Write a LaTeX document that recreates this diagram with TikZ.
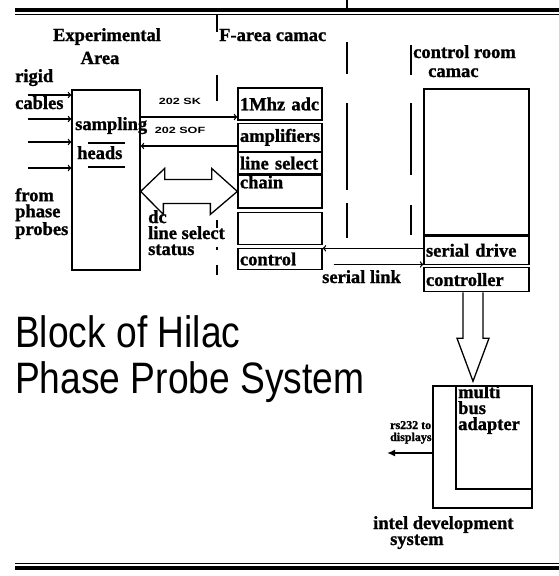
\documentclass[tikz,border=0pt]{standalone}
\usepackage{fontspec}
\setmainfont{Liberation Serif}[BoldFeatures={FakeBold=1.2}]
\newfontfamily\titlefont[FakeStretch=0.845]{Liberation Sans}
\newfontfamily\tagfont[FakeStretch=1.4]{Liberation Sans}
\usepackage{tikz}
\usetikzlibrary{arrows,arrows.meta,positioning,calc}

\begin{document}
\begin{tikzpicture}[
    x=1pt, y=-1pt,
    box/.style={rectangle, draw=black, line width=1.3pt, inner sep=0pt},
    row/.style={box, minimum width=84pt, text width=80pt, inner xsep=2pt, align=left, font=\bfseries\fontsize{18.5}{16}\selectfont},
    lbl/.style={inner sep=0pt, font=\bfseries\fontsize{18.5}{16}\selectfont},
    tag/.style={inner sep=0pt, font=\tagfont\bfseries\fontsize{9}{10}\selectfont},
    arrow/.style={->,>=to,line width=1.3pt},
    hollow/.style={line width=1.3pt, line join=miter},
    sep/.style={line width=1.3pt}
]
\useasboundingbox (0,0) rectangle (559,576);

% Rules
\draw[line width=4pt] (15,10) -- (559,10);
\draw[line width=1.2pt] (15,14.5) -- (559,14.5);
\draw[line width=1pt] (15,563) -- (559,563);
\draw[line width=3.5pt] (15,568) -- (559,568);

% Area separators
\foreach \x/\a/\b in {217/14/32, 217/75/101, 217/220/228, 217/247/250, 217/265/275,
                      347/0/10, 347/42/74, 347/103/190, 347/203/238,
                      411/45/75, 411/103/175, 411/205/235}
  \draw[sep] (\x,\a) -- (\x,\b);

% Area headings
\node[lbl, anchor=base] (exp) at (107,41) {Experimental};
\node[lbl, anchor=base] (area) at (100,64) {Area};
\node[lbl, anchor=base west] (farea) at (219,41) {F-area camac};
\node[lbl, anchor=base west] (croom) at (413,58) {control room};
\node[lbl, anchor=base west] (crcamac) at (428,77) {camac};

% Experimental Area
\node[box, minimum width=68pt, minimum height=180pt] (heads) at (106,180) {};
\node[lbl, anchor=base west] (smp) at (75,130) {sampling};
\node[lbl, anchor=base west] (hds) at (77,159) {heads};
\draw[sep] (88,143) -- (125,143);
\draw[sep] (88,167) -- (125,167);
\node[lbl, anchor=base west] (rigid) at (15,82) {rigid};
\node[lbl, anchor=base west] (cables) at (15,109) {cables};
\node[lbl, anchor=base west, align=left] (probes) at (15,235) {from\\phase\\probes};

% F-area camac crate
\node[row, minimum height=32pt] (adc) at (280,104) {1Mhz adc};
\node[row, minimum height=28pt, below=2pt of adc] (amp) {amplifiers};
\node[row, minimum height=21pt, below=0pt of amp] (lsel) {line select};
\node[row, minimum height=33pt, text depth=19pt, below=0pt of lsel] (chain) {chain};
\node[row, minimum height=32pt, below=3pt of chain] (spare) {};
\node[row, minimum height=21pt, below=3pt of spare] (ctrl) {control};

% Control room camac crate
\node[box, minimum width=105pt, minimum height=146pt] (crbox) at (476.5,162) {};
\node[row, minimum width=105pt, text width=101pt, minimum height=28pt, below=0pt of crbox] (sdrv) {serial drive};
\node[row, minimum width=105pt, text width=101pt, minimum height=24pt, below=2pt of sdrv] (cntl) {controller};

% Intel development system
\node[box, minimum width=99pt, minimum height=122pt] (intel) at (482.5,447) {};
\node[box, minimum width=76pt, minimum height=103pt, anchor=north east] (adapter) at (intel.north east) {};
\node[lbl, anchor=base west, align=left] (adtxt) at (458,430) {multi\\bus\\adapter};
\node[lbl, anchor=base west] (idev) at (373,529) {intel development};
\node[lbl, anchor=base west] (isys) at (390,545) {system};

% Title
\node[anchor=base west, inner sep=0pt, font=\titlefont\fontsize{44}{46}\selectfont] (title1) at (15,347) {Block of Hilac};
\node[anchor=base west, inner sep=0pt, font=\titlefont\fontsize{44}{46}\selectfont] (title2) at (15,393) {Phase Probe System};

% Connections
\foreach \y [count=\i] in {95,119,142,168} {
  \coordinate (in\i) at (28,\y);
  \draw[arrow] (in\i) -- (in\i -| heads.west);
}

\coordinate (sk) at (180,117);
\coordinate (sof) at (180,146);
\draw[arrow] (sk -| heads.east) -- (sk -| adc.west);
\draw[arrow] (sof -| amp.west) -- (sof -| heads.east);
\node[tag, anchor=base] (sklbl) at (180,104) {202 SK};
\node[tag, anchor=base] (soflbl) at (180,133) {202 SOF};

\coordinate (dl) at (heads.east |- chain.west);
\draw[hollow] (dl) -- ++(24,-23) -- ++(0,11) -- ++(47,0) -- ++(0,-11) -- (chain.west)
  -- ++(-27,23) -- ++(0,-11) -- ++(-47,0) -- ++(0,11) -- cycle;
\node[lbl, anchor=base west, align=left] (dcsel) at (148,255) {dc\\line select\\status};

\draw[arrow] ([yshift=2pt]sdrv.west) -- ([yshift=2pt]sdrv.west -| ctrl.east);
\coordinate (slx) at ($(ctrl.east)+(11,5.5)$);
\draw[arrow] (slx) -- (slx -| sdrv.west);
\node[lbl, anchor=base west] (slink) at (322,283) {serial link};

\coordinate (dn) at ([xshift=-3.5pt]cntl.south);
\draw[hollow] ($(dn)+(-10,0)$) -- ++(0,46) -- ++(-6,0) -- ($(dn)+(0,89)$)
  -- ++(16,-43) -- ++(-6,0) -- ++(0,-46);

\coordinate (rs) at (387,453);
\draw[line width=1.6pt, -{Latex[length=8pt,width=7pt]}] (rs -| intel.west) -- (rs);
\node[lbl, anchor=base west, align=left, font=\bfseries\fontsize{12}{12}\selectfont] (rstxt) at (390,441) {rs232 to\\displays};

\end{tikzpicture}
\end{document}
